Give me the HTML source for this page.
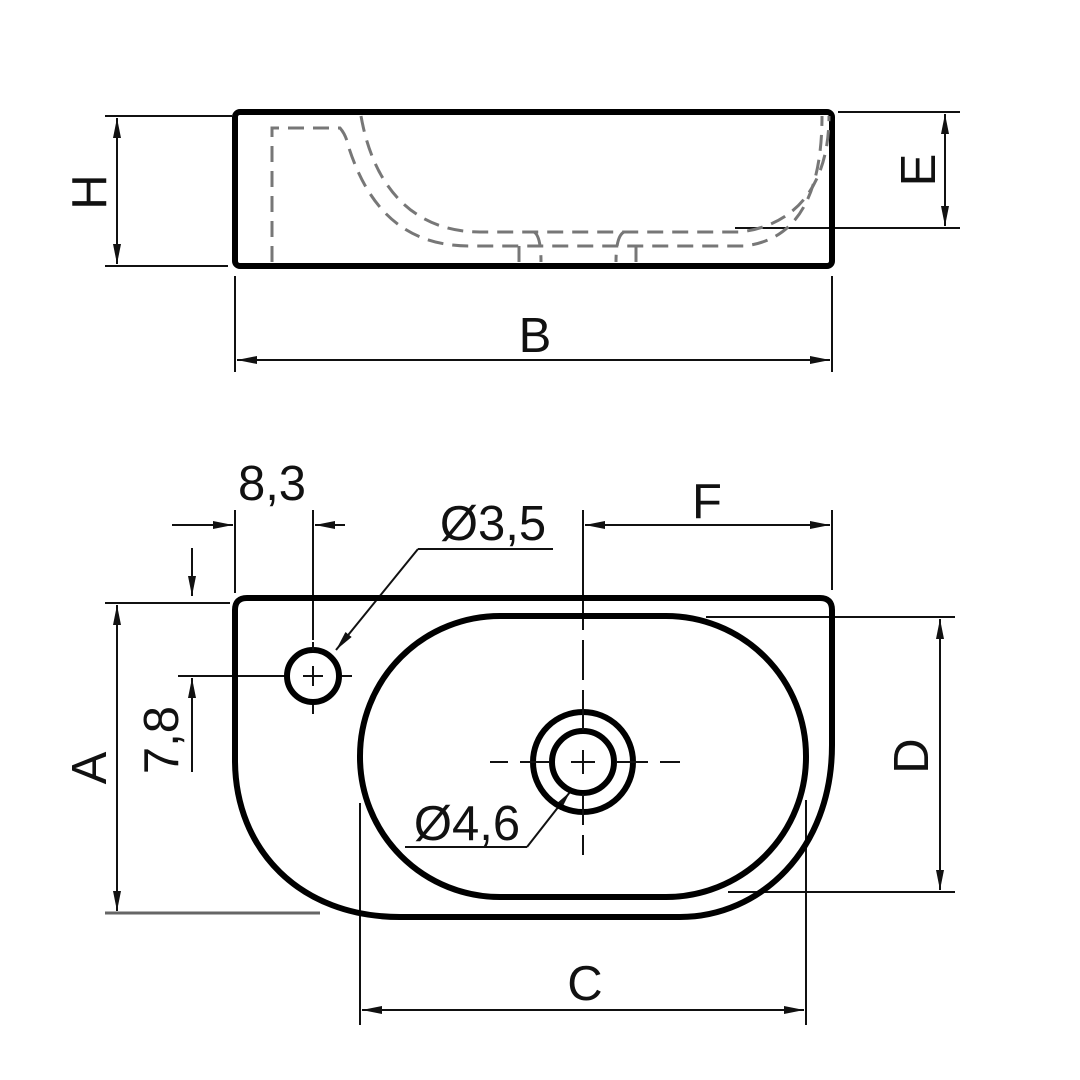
<!DOCTYPE html>
<html><head><meta charset="utf-8"><style>
html,body{margin:0;padding:0;background:#fff;}
svg{display:block;}
text{font-family:"Liberation Sans",sans-serif;font-size:49px;fill:#111;}
</style></head><body>
<svg width="1080" height="1080" viewBox="0 0 1080 1080" xmlns="http://www.w3.org/2000/svg">
<defs>
<marker id="a" viewBox="0 0 20 8" refX="20" refY="4" markerWidth="20" markerHeight="8" markerUnits="userSpaceOnUse" orient="auto-start-reverse">
<path d="M0,0 L20,4 L0,8 Z" fill="#111"/></marker>
</defs>
<g fill="none" stroke="#111" stroke-width="2">
<line x1="105" y1="116" x2="232" y2="116"/>
<line x1="105" y1="266" x2="228" y2="266"/>
<line x1="117" y1="118" x2="117" y2="264" marker-start="url(#a)" marker-end="url(#a)"/>
<line x1="838" y1="112" x2="960" y2="112"/>
<line x1="735" y1="228" x2="960" y2="228"/>
<line x1="945" y1="114" x2="945" y2="226" marker-start="url(#a)" marker-end="url(#a)"/>
<line x1="235" y1="276" x2="235" y2="372"/>
<line x1="832" y1="276" x2="832" y2="372"/>
<line x1="237" y1="360" x2="830" y2="360" marker-start="url(#a)" marker-end="url(#a)"/>
</g>
<rect x="235" y="112" width="597" height="154" rx="5" fill="none" stroke="#000" stroke-width="6"/>
<g fill="none" stroke="#777" stroke-width="3" stroke-dasharray="16,9">
<path d="M272 262 V128 H340 Q346 135 348 145 C 370 215 410 246 470 246 H744 C 800 240 822 190 822 116"/>
<path d="M361 116 C 375 195 420 232 480 232 H740 C 800 225 829 180 829 116"/>
<path d="M534 232 Q 541 236 541 262 M 519 246 V262 M 624 232 Q 616 236 616 262 M 636 246 V262"/>
</g>
<text x="535" y="352" text-anchor="middle">B</text>
<text transform="translate(106,192) rotate(-90)" text-anchor="middle">H</text>
<text transform="translate(935,170) rotate(-90)" text-anchor="middle">E</text>

<g fill="none" stroke="#111" stroke-width="2">
<line x1="172" y1="525" x2="233" y2="525" marker-end="url(#a)"/>
<line x1="345" y1="525" x2="315" y2="525" marker-end="url(#a)"/>
<line x1="235" y1="510" x2="235" y2="593"/>
<line x1="313" y1="510" x2="313" y2="640"/>
<line x1="313" y1="700" x2="313" y2="714"/>
<line x1="418" y1="549" x2="553" y2="549"/>
<line x1="418" y1="549" x2="336" y2="650" marker-end="url(#a)"/>
<line x1="585" y1="525" x2="830" y2="525" marker-start="url(#a)" marker-end="url(#a)"/>
<line x1="832" y1="510" x2="832" y2="590"/>
<line x1="583" y1="510" x2="583" y2="630"/>
<line x1="178" y1="676" x2="290" y2="676"/>
<line x1="192" y1="548" x2="192" y2="596" marker-end="url(#a)"/>
<line x1="192" y1="772" x2="192" y2="678" marker-end="url(#a)"/>
<line x1="105" y1="603" x2="230" y2="603"/>
<line x1="105" y1="913" x2="320" y2="913" stroke="#666" stroke-width="3"/>
<line x1="117" y1="605" x2="117" y2="911" marker-start="url(#a)" marker-end="url(#a)"/>
<line x1="706" y1="617" x2="955" y2="617"/>
<line x1="728" y1="892" x2="955" y2="892"/>
<line x1="940" y1="619" x2="940" y2="890" marker-start="url(#a)" marker-end="url(#a)"/>
<line x1="360" y1="803" x2="360" y2="1025"/>
<line x1="806" y1="800" x2="806" y2="1025"/>
<line x1="362" y1="1010" x2="804" y2="1010" marker-start="url(#a)" marker-end="url(#a)"/>
<line x1="405" y1="847" x2="527" y2="847"/>
<line x1="527" y1="847" x2="570" y2="792" marker-end="url(#a)"/>
</g>
<g fill="none" stroke="#000" stroke-width="6">
<path d="M247 598 H820 Q832 598 832 610 V745 C832 850 760 917 680 917 H400 C300 917 235 850 235 760 V610 Q235 598 247 598 Z"/>
<rect x="360" y="616" width="446" height="281" rx="140" ry="140"/>
<circle cx="313" cy="676" r="26"/>
<circle cx="583" cy="762" r="50"/>
<circle cx="583" cy="762" r="31"/>
</g>
<g stroke="#111" stroke-width="2" fill="none">
<line x1="303" y1="676" x2="323" y2="676"/><line x1="313" y1="666" x2="313" y2="686"/>
<line x1="276" y1="676" x2="284" y2="676"/><line x1="342" y1="676" x2="352" y2="676"/>
<line x1="313" y1="642" x2="313" y2="650"/>
<line x1="571" y1="762" x2="595" y2="762"/><line x1="583" y1="750" x2="583" y2="774"/>
<line x1="490" y1="762" x2="508" y2="762"/><line x1="520" y1="762" x2="550" y2="762"/><line x1="616" y1="762" x2="648" y2="762"/><line x1="660" y1="762" x2="680" y2="762"/>
<line x1="583" y1="640" x2="583" y2="680"/><line x1="583" y1="690" x2="583" y2="730"/><line x1="583" y1="794" x2="583" y2="825"/><line x1="583" y1="835" x2="583" y2="855"/>
</g>
<text x="272" y="500" text-anchor="middle">8,3</text>
<text x="493" y="540" text-anchor="middle">Ø3,5</text>
<text x="707" y="518" text-anchor="middle">F</text>
<text x="467" y="840" text-anchor="middle">Ø4,6</text>
<text x="585" y="1000" text-anchor="middle">C</text>
<text transform="translate(178,740) rotate(-90)" text-anchor="middle">7,8</text>
<text transform="translate(106,768) rotate(-90)" text-anchor="middle">A</text>
<text transform="translate(928,756) rotate(-90)" text-anchor="middle">D</text>
</svg>
</body></html>
